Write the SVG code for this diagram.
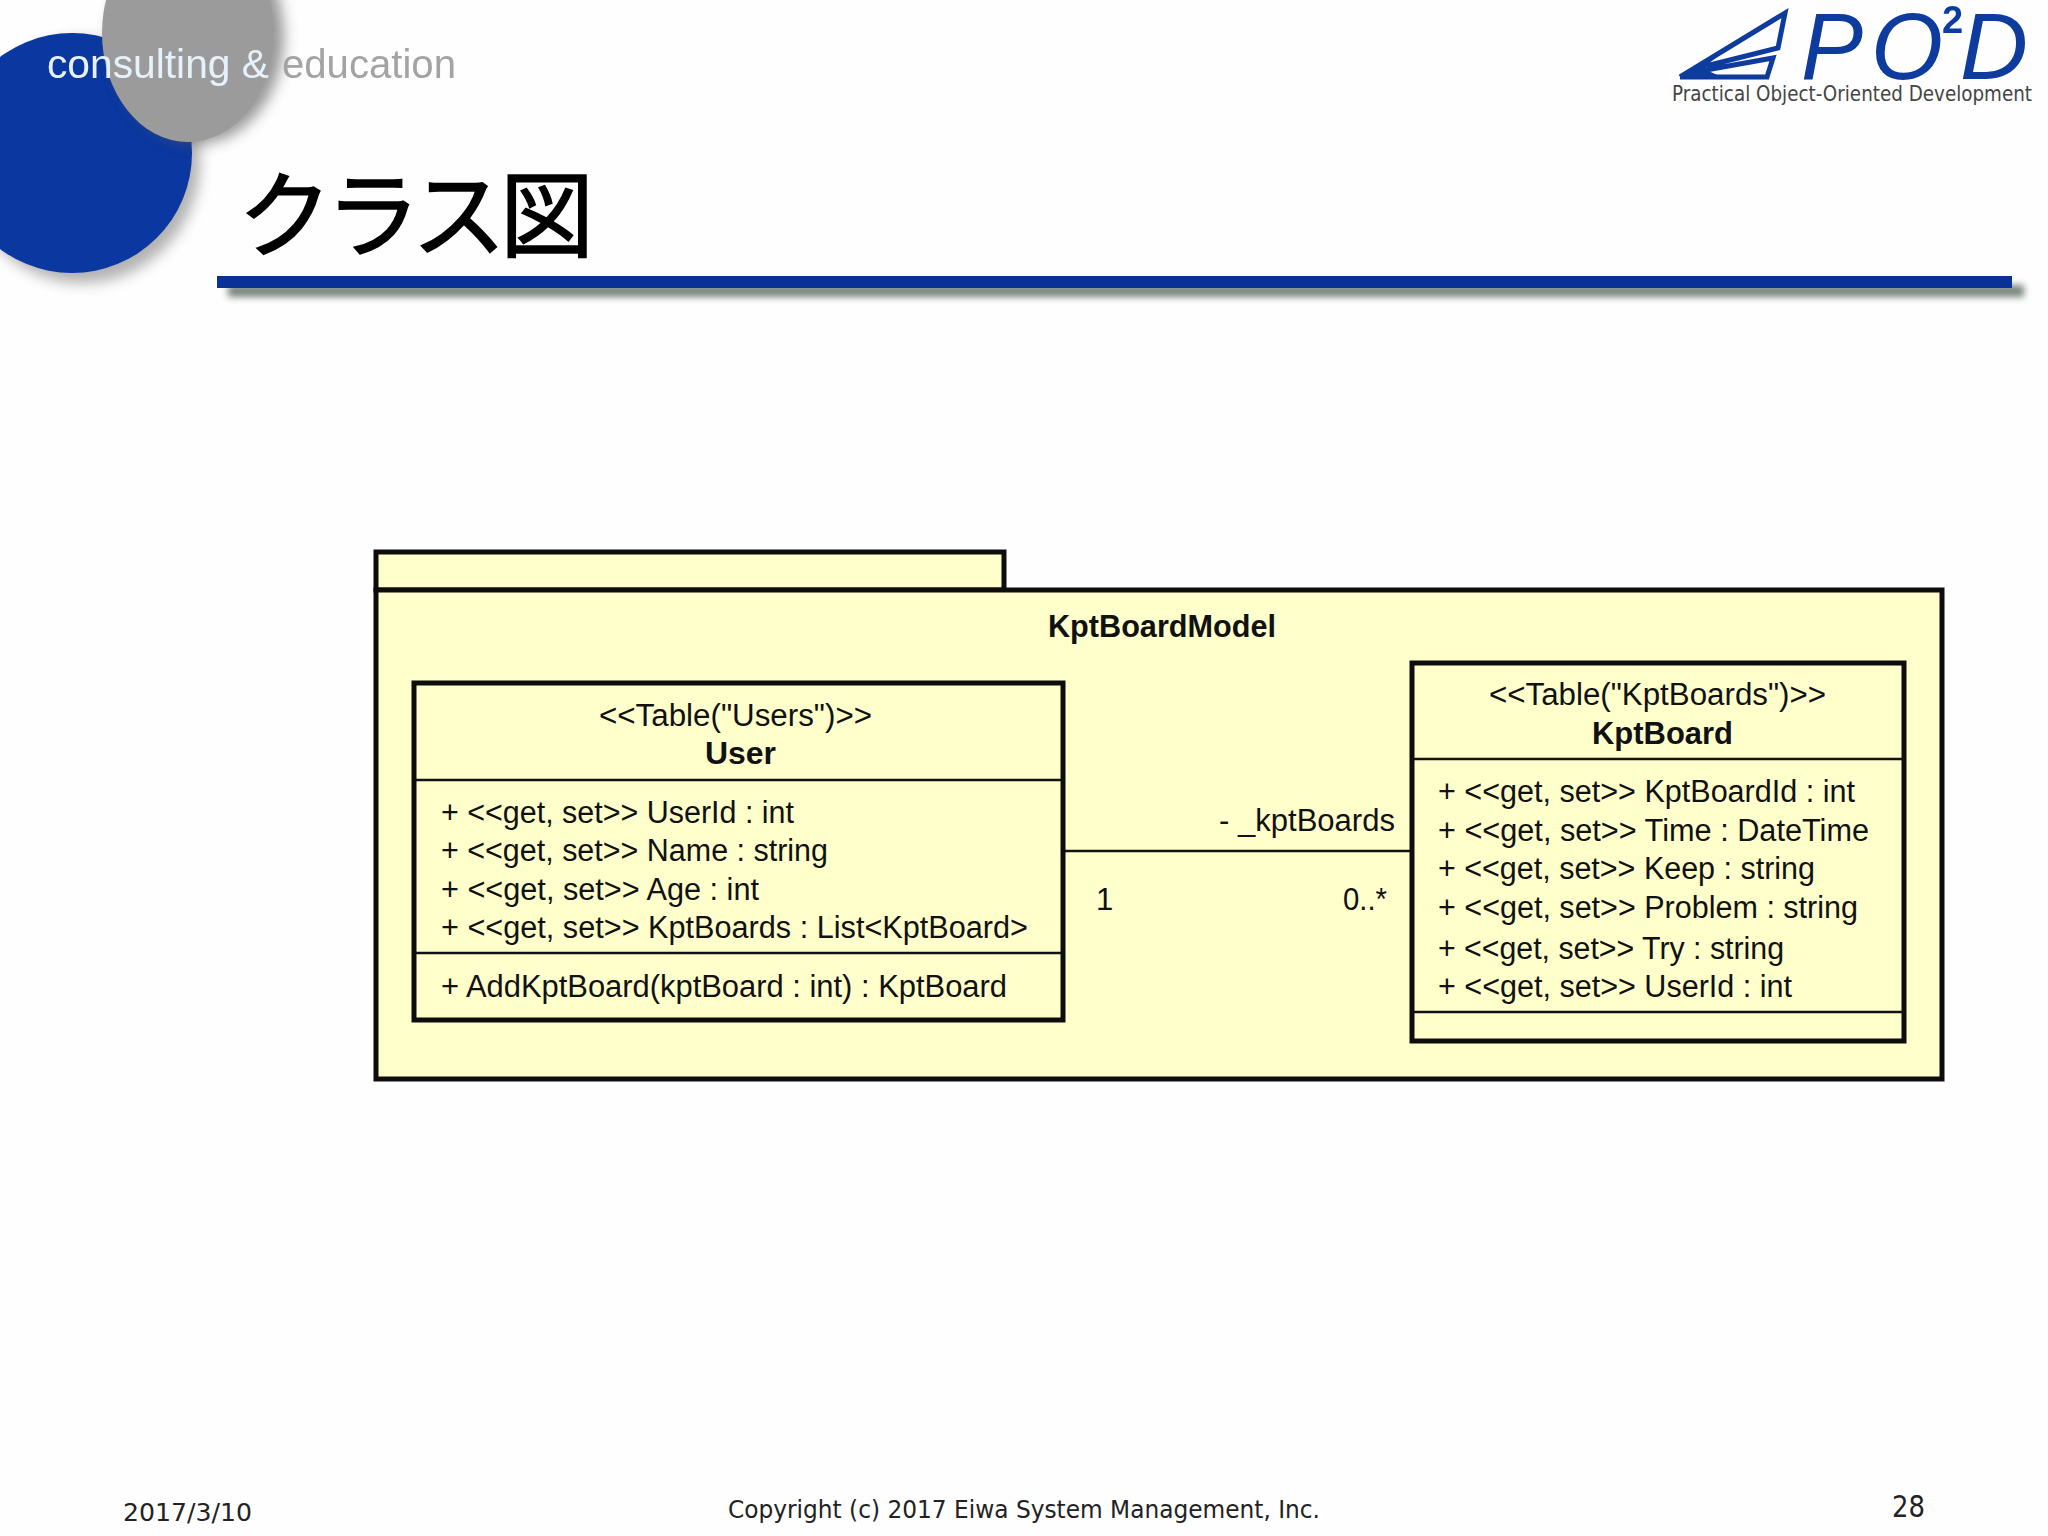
<svg xmlns="http://www.w3.org/2000/svg" width="2048" height="1536" viewBox="0 0 2048 1536">
<style>
.t{font-family:"Liberation Sans",Arial,sans-serif;font-size:31px;fill:#111}
.b{font-weight:bold}
.box{fill:#ffffcc;stroke:#0d0d0d;stroke-width:5}
.div{stroke:#111;stroke-width:2.5;fill:none}
.f{font-family:"DejaVu Sans",sans-serif;font-size:24px;fill:#222}
.logo{font-family:"Liberation Sans",Arial,sans-serif;font-style:italic;fill:#0b3a9e}
</style>
<defs>
<filter id="sh" x="-20%" y="-20%" width="140%" height="140%"><feGaussianBlur stdDeviation="7"/></filter>
<filter id="sh2" x="-5%" y="-100%" width="110%" height="300%"><feGaussianBlur stdDeviation="3.5"/></filter>
<filter id="soft" x="-5%" y="-20%" width="110%" height="140%"><feGaussianBlur stdDeviation="0.7"/></filter>
</defs>
<rect width="2048" height="1536" fill="#fefefe"/>
<g id="banner">
<ellipse cx="82" cy="161" rx="118" ry="122" fill="#555" opacity=".45" filter="url(#sh)"/>
<ellipse cx="72" cy="153" rx="120" ry="120" fill="#0a37a0"/>
<ellipse cx="197" cy="36" rx="87" ry="108" fill="#555" opacity=".6" filter="url(#sh)"/>
<ellipse cx="188" cy="33" rx="86" ry="109" fill="#9c9b9c"/>
<g filter="url(#soft)">
<text x="47" y="78" font-family="Liberation Sans,Arial,sans-serif" font-size="40" fill="#e6f2fb" textLength="222" lengthAdjust="spacingAndGlyphs">consulting &amp;</text>
<text x="282" y="78" font-family="Liberation Sans,Arial,sans-serif" font-size="40" fill="#a3a3a3" textLength="174" lengthAdjust="spacingAndGlyphs">education</text>
</g>
<text x="238" y="250" font-family="'Noto Sans CJK JP',sans-serif" font-size="94" fill="#000" stroke="#000" stroke-width="1.5" textLength="356">クラス図</text>
<rect x="228" y="285" width="1796" height="12" fill="#4a5a50" opacity=".75" filter="url(#sh2)"/>
<rect x="217" y="276" width="1795" height="12" fill="#0a3296"/>
</g>
<g id="logo">
<g filter="url(#soft)">
<path d="M1680 77 L1785 13 L1778 48 L1706 66 M1706 70 L1773 58 L1767 77 L1680 77" fill="none" stroke="#0b3a9e" stroke-width="5"/>
<path d="M1680 78 L1720 54 L1706 66 L1706 70 L1722 77Z" fill="#0b3a9e"/>
<text class="logo" x="1801" y="79" font-size="95" textLength="62" lengthAdjust="spacingAndGlyphs">P</text>
<text class="logo" x="1871" y="79" font-size="95" textLength="72" lengthAdjust="spacingAndGlyphs">O</text>
<text class="logo" x="1942" y="33" font-size="38" font-weight="bold" style="font-style:normal">2</text>
<text class="logo" x="1960" y="79" font-size="95" textLength="68" lengthAdjust="spacingAndGlyphs">D</text>
</g>
<text x="1672" y="101" font-family="'DejaVu Sans',sans-serif" font-size="21" fill="#444" textLength="360" lengthAdjust="spacingAndGlyphs">Practical Object-Oriented Development</text>
</g>
<g id="package-KptBoardModel">
<rect class="box" x="376" y="552" width="628" height="38"/>
<rect class="box" x="376" y="590" width="1566" height="489"/>
<text class="t b" x="1048" y="637" textLength="228" lengthAdjust="spacingAndGlyphs">KptBoardModel</text>
</g>
<g id="connectors">
<line class="div" x1="1063" y1="851" x2="1412" y2="851"/>
<text class="t" x="1219" y="831" textLength="176" lengthAdjust="spacingAndGlyphs">- _kptBoards</text>
<text class="t" x="1096" y="910">1</text>
<text class="t" x="1343" y="910" textLength="44" lengthAdjust="spacingAndGlyphs">0..*</text>
</g>
<g id="class-User">
<rect class="box" x="414" y="683" width="649" height="337"/>
<line class="div" x1="414" y1="780" x2="1063" y2="780"/>
<line class="div" x1="414" y1="953" x2="1063" y2="953"/>
<text class="t" x="599" y="726" textLength="273" lengthAdjust="spacingAndGlyphs">&lt;&lt;Table("Users")&gt;&gt;</text>
<text class="t b" x="705" y="764" textLength="71" lengthAdjust="spacingAndGlyphs">User</text>
<text class="t" x="441" y="823" textLength="353" lengthAdjust="spacingAndGlyphs">+ &lt;&lt;get, set&gt;&gt; UserId : int</text>
<text class="t" x="441" y="861" textLength="387" lengthAdjust="spacingAndGlyphs">+ &lt;&lt;get, set&gt;&gt; Name : string</text>
<text class="t" x="441" y="900" textLength="318" lengthAdjust="spacingAndGlyphs">+ &lt;&lt;get, set&gt;&gt; Age : int</text>
<text class="t" x="441" y="938" textLength="587" lengthAdjust="spacingAndGlyphs">+ &lt;&lt;get, set&gt;&gt; KptBoards : List&lt;KptBoard&gt;</text>
<text class="t" x="441" y="997" textLength="566" lengthAdjust="spacingAndGlyphs">+ AddKptBoard(kptBoard : int) : KptBoard</text>
</g>
<g id="class-KptBoard">
<rect class="box" x="1412" y="663" width="492" height="378"/>
<line class="div" x1="1412" y1="759" x2="1904" y2="759"/>
<line class="div" x1="1412" y1="1012" x2="1904" y2="1012"/>
<text class="t" x="1489" y="705" textLength="337" lengthAdjust="spacingAndGlyphs">&lt;&lt;Table("KptBoards")&gt;&gt;</text>
<text class="t b" x="1592" y="744" textLength="141" lengthAdjust="spacingAndGlyphs">KptBoard</text>
<text class="t" x="1438" y="802" textLength="417" lengthAdjust="spacingAndGlyphs">+ &lt;&lt;get, set&gt;&gt; KptBoardId : int</text>
<text class="t" x="1438" y="841" textLength="431" lengthAdjust="spacingAndGlyphs">+ &lt;&lt;get, set&gt;&gt; Time : DateTime</text>
<text class="t" x="1438" y="879" textLength="377" lengthAdjust="spacingAndGlyphs">+ &lt;&lt;get, set&gt;&gt; Keep : string</text>
<text class="t" x="1438" y="918" textLength="420" lengthAdjust="spacingAndGlyphs">+ &lt;&lt;get, set&gt;&gt; Problem : string</text>
<text class="t" x="1438" y="959" textLength="346" lengthAdjust="spacingAndGlyphs">+ &lt;&lt;get, set&gt;&gt; Try : string</text>
<text class="t" x="1438" y="997" textLength="354" lengthAdjust="spacingAndGlyphs">+ &lt;&lt;get, set&gt;&gt; UserId : int</text>
</g>
<g id="footer">
<text class="f" x="123" y="1521" textLength="129" lengthAdjust="spacingAndGlyphs">2017/3/10</text>
<text class="f" x="728" y="1518" textLength="592" lengthAdjust="spacingAndGlyphs">Copyright (c) 2017 Eiwa System Management, Inc.</text>
<text class="f" x="1892" y="1517" style="font-size:30px" textLength="33" lengthAdjust="spacingAndGlyphs">28</text>
</g>
</svg>
